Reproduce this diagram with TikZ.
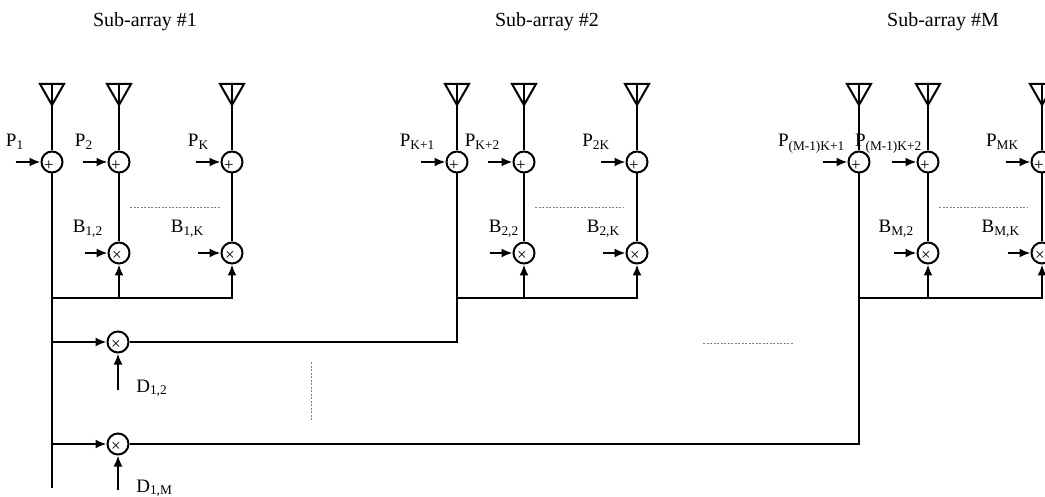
\documentclass[tikz,border=0pt]{standalone}
\usepackage{fontspec}
\setmainfont{Liberation Serif}
\usetikzlibrary{arrows.meta}

\begin{document}
\begin{tikzpicture}[x=1pt,y=-1pt,>/.tip={Latex[length=11pt,width=9pt]},line width=2pt,
	font=\fontsize{19}{22}\selectfont,
	adder/.style={draw,shape=circle,minimum size=21pt,inner sep=0pt,
		label={[font=\fontsize{17}{17}\selectfont,xshift=-3pt,yshift=-4pt,inner sep=0pt]center:+}},
	mixer/.style={draw,shape=circle,minimum size=21pt,inner sep=0pt,
		label={[font=\fontsize{17}{17}\selectfont,xshift=-2pt,yshift=-3pt,inner sep=0pt]center:×}},
	dots/.style={line width=0.9pt,gray,dash pattern=on 2pt off 1.5pt}]
	\useasboundingbox (0,0) rectangle (1045,497);
	\clip (0,0) rectangle (1045,497);

	% titles
	\node (title1) [anchor=base,font=\fontsize{20}{24}\selectfont] at (145,27) {Sub-array \#1};
	\node (title2) [anchor=base,font=\fontsize{20}{24}\selectfont] at (547,27) {Sub-array \#2};
	\node (titleM) [anchor=base,font=\fontsize{20}{24}\selectfont] at (943,27) {Sub-array \#M};

	% antennas
	\coordinate (ant11) at (52,84);   \coordinate (ant12) at (119,84);  \coordinate (ant13) at (232,84);
	\coordinate (ant21) at (457,84);  \coordinate (ant22) at (524,84);  \coordinate (ant23) at (637,84);
	\coordinate (antM1) at (859,84);  \coordinate (antM2) at (928,84);  \coordinate (antM3) at (1042,84);
	\draw (ant11) ++(-12,0) -- ++(24,0) -- ++(-12,21) -- cycle;
	\draw (ant12) ++(-12,0) -- ++(24,0) -- ++(-12,21) -- cycle;
	\draw (ant13) ++(-12,0) -- ++(24,0) -- ++(-12,21) -- cycle;
	\draw (ant21) ++(-12,0) -- ++(24,0) -- ++(-12,21) -- cycle;
	\draw (ant22) ++(-12,0) -- ++(24,0) -- ++(-12,21) -- cycle;
	\draw (ant23) ++(-12,0) -- ++(24,0) -- ++(-12,21) -- cycle;
	\draw (antM1) ++(-12,0) -- ++(24,0) -- ++(-12,21) -- cycle;
	\draw (antM2) ++(-12,0) -- ++(24,0) -- ++(-12,21) -- cycle;
	\draw (antM3) ++(-12,0) -- ++(24,0) -- ++(-12,21) -- cycle;

	% adders
	\draw (52,162) node (add11) [adder] {};
	\draw (119,162) node (add12) [adder] {};
	\draw (232,162) node (add13) [adder] {};
	\draw (457,162) node (add21) [adder] {};
	\draw (524,162) node (add22) [adder] {};
	\draw (637,162) node (add23) [adder] {};
	\draw (859,162) node (addM1) [adder] {};
	\draw (928,162) node (addM2) [adder] {};
	\draw (1042,162) node (addM3) [adder] {};

	% beam weights
	\draw (119,253) node (mul12) [mixer] {};
	\draw (232,253) node (mul13) [mixer] {};
	\draw (524,253) node (mul22) [mixer] {};
	\draw (637,253) node (mul23) [mixer] {};
	\draw (928,253) node (mulM2) [mixer] {};
	\draw (1042,253) node (mulM3) [mixer] {};

	% combining
	\draw (118,342) node (mix12) [mixer] {};
	\draw (118,444) node (mix1M) [mixer] {};

	% labels
	\node [anchor=base east] at (28,147) {P\textsubscript{1}};
	\node [anchor=base east] at (97,147) {P\textsubscript{2}};
	\node [anchor=base east] at (213,147) {P\textsubscript{K}};
	\node [anchor=base east] at (439,147) {P\textsubscript{K+1}};
	\node [anchor=base east] at (504,147) {P\textsubscript{K+2}};
	\node [anchor=base east] at (614,147) {P\textsubscript{2K}};
	\node [anchor=base east] at (849,147) {P\textsubscript{(M-1)K+1}};
	\node [anchor=base east] at (926,147) {P\textsubscript{(M-1)K+2}};
	\node [anchor=base east] at (1023,147) {P\textsubscript{MK}};
	\node [anchor=base east] at (107,233) {B\textsubscript{1,2}};
	\node [anchor=base east] at (208,233) {B\textsubscript{1,K}};
	\node [anchor=base east] at (523,233) {B\textsubscript{2,2}};
	\node [anchor=base east] at (624,233) {B\textsubscript{2,K}};
	\node [anchor=base east] at (918,233) {B\textsubscript{M,2}};
	\node [anchor=base east] at (1024,233) {B\textsubscript{M,K}};
	\node [anchor=base west] at (132,392) {D\textsubscript{1,2}};
	\node [anchor=base west] at (132,492) {D\textsubscript{1,M}};

	% feeds
	\path (ant11) edge (add11) (ant12) edge (add12) (ant13) edge (add13);
	\path (ant21) edge (add21) (ant22) edge (add22) (ant23) edge (add23);
	\path (antM1) edge (addM1) (antM2) edge (addM2) (antM3) edge (addM3);
	\path (add12) edge (mul12) (add13) edge (mul13);
	\path (add22) edge (mul22) (add23) edge (mul23);
	\path (addM2) edge (mulM2) (addM3) edge (mulM3);

	\path[->] ([xshift=-25pt]add11.west) edge (add11);
	\path[->] ([xshift=-25pt]add12.west) edge (add12);
	\path[->] ([xshift=-25pt]add13.west) edge (add13);
	\path[->] ([xshift=-25pt]add21.west) edge (add21);
	\path[->] ([xshift=-25pt]add22.west) edge (add22);
	\path[->] ([xshift=-25pt]add23.west) edge (add23);
	\path[->] ([xshift=-25pt]addM1.west) edge (addM1);
	\path[->] ([xshift=-25pt]addM2.west) edge (addM2);
	\path[->] ([xshift=-25pt]addM3.west) edge (addM3);
	\path[->] ([xshift=-23pt]mul12.west) edge (mul12);
	\path[->] ([xshift=-23pt]mul13.west) edge (mul13);
	\path[->] ([xshift=-23pt]mul22.west) edge (mul22);
	\path[->] ([xshift=-23pt]mul23.west) edge (mul23);
	\path[->] ([xshift=-23pt]mulM2.west) edge (mulM2);
	\path[->] ([xshift=-23pt]mulM3.west) edge (mulM3);

	% buses
	\coordinate (bus1) at (52,298);
	\coordinate (bus2) at (457,298);
	\coordinate (busM) at (859,298);
	\coordinate (end1) at (52,488);
	\draw (add11) -- (end1);
	\draw[->] (bus1) -| (mul13);
	\draw[->] (mul12 |- bus1) -- (mul12);
	\draw[->] (bus2) -| (mul23);
	\draw[->] (mul22 |- bus2) -- (mul22);
	\draw[->] (busM) -| (mulM3);
	\draw[->] (mulM2 |- busM) -- (mulM2);

	\draw[->] (add11 |- mix12) -- (mix12);
	\draw[->] (add11 |- mix1M) -- (mix1M);
	\draw[->] ([yshift=-36pt]mix12.south) -- (mix12);
	\draw[->] ([yshift=-34pt]mix1M.south) -- (mix1M);
	\draw (mix12) -- (mix12 -| add21) -- (add21);
	\draw (mix1M) -- (mix1M -| addM1) -- (addM1);

	% dots
	\draw[dots] (130,207) -- (220,207);
	\draw[dots] (535,207) -- (623,207);
	\draw[dots] (939,207) -- (1027,207);
	\draw[dots] (311,362) -- (311,420);
	\draw[dots] (703,343) -- (793,343);
\end{tikzpicture}
\end{document}
